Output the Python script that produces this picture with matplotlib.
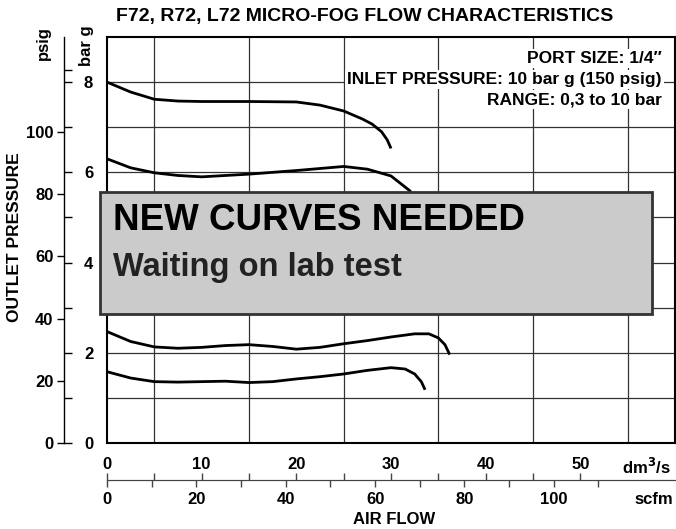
import numpy as np
import matplotlib
matplotlib.use("Agg")
import matplotlib.pyplot as plt

plt.rcParams['font.family'] = ['Liberation Sans', 'DejaVu Sans']
plt.rcParams['font.weight'] = 'bold'

# curvas (caudal dm3/s, presion bar g)
flow_8 = [0, 2.5, 5, 7.5, 10, 15, 20, 22.5, 25, 27, 28, 29, 29.6, 30]
pres_8 = [8.0, 7.78, 7.62, 7.58, 7.57, 7.57, 7.56, 7.49, 7.36, 7.18, 7.07, 6.9, 6.72, 6.53]

flow_6 = [0, 2.5, 5, 7.5, 10, 15, 20, 25, 27.5, 30, 32, 33.5]
pres_6 = [6.3, 6.1, 5.99, 5.93, 5.9, 5.96, 6.04, 6.13, 6.07, 5.92, 5.59, 5.1]

flow_2 = [0, 2.5, 5, 7.5, 10, 12.5, 15, 17.5, 20, 22.5, 25, 27.5, 30, 32.5, 34, 35, 35.7, 36.2]
pres_2 = [2.47, 2.25, 2.13, 2.10, 2.12, 2.16, 2.18, 2.14, 2.08, 2.12, 2.2, 2.27, 2.35, 2.42, 2.42, 2.33, 2.18, 1.96]

flow_1 = [0, 2.5, 5, 7.5, 10, 12.5, 15, 17.5, 20, 22.5, 25, 27.5, 30, 31.5, 32.5, 33.2, 33.6]
pres_1 = [1.58, 1.44, 1.36, 1.35, 1.36, 1.37, 1.34, 1.36, 1.42, 1.47, 1.53, 1.61, 1.67, 1.64, 1.53, 1.36, 1.18]

dm_ticks = [0, 10, 20, 30, 40, 50]
scfm_ticks = [0, 20, 40, 60, 80, 100]
psig_ticks = [0, 20, 40, 60, 80, 100]
bar_ticks = [0, 1, 2, 3, 4, 5, 6, 7, 8]

notes = ['PORT SIZE: 1/4\u2033', 'INLET PRESSURE: 10 bar g (150 psig)', 'RANGE: 0,3 to 10 bar']

W, H = 676, 529
BAR2PSI = 14.5038
DM_PER_SCFM = 0.471947
FS = 12


def rect(l, t, r, b):
    return [l / W, 1 - b / H, (r - l) / W, (b - t) / H]


fig = plt.figure(figsize=(W / 100, H / 100), dpi=100)

# grafico principal
ax = fig.add_axes(rect(107, 37, 675, 443))
ax.set_xlim(0, 60)
ax.set_ylim(0, 9)
ax.set_xticks(np.arange(0, 60, 5), minor=True)
ax.set_yticks(np.arange(1, 9, 1), minor=True)
ax.grid(True, which='minor', color='#333333', lw=0.9)
ax.set_xticks(dm_ticks + [57])
ax.set_xticklabels([str(v) for v in dm_ticks] + ['dm$^\\mathbf{3}$/s'], fontsize=FS, fontweight='bold')
ax.tick_params(axis='x', which='both', length=0, pad=10)
ax.set_yticks([])
ax.tick_params(axis='y', which='both', length=0)
for s in ax.spines.values():
    s.set_linewidth(1.5)

for fx, py in [(flow_8, pres_8), (flow_6, pres_6), (flow_2, pres_2), (flow_1, pres_1)]:
    ax.plot(fx, py, color='black', lw=2.0, zorder=3, solid_capstyle='butt')

ys = [8.52, 8.06, 7.61]
for txt, yv in zip(notes, ys):
    ax.text(58.6, yv, txt, ha='right', va='center', fontsize=12.5, fontweight='bold', zorder=4,
            bbox=dict(facecolor='white', edgecolor='none', pad=1.5))

# caja gris
box = plt.Rectangle((-0.74, 2.87), 58.3, 2.69, facecolor='#cbcbcb', edgecolor='#333333',
                    lw=2, zorder=5, clip_on=False)
ax.add_patch(box)
ax.text(0.6, 4.93, 'NEW CURVES NEEDED', fontsize=26.5, fontweight='bold', va='center', zorder=6)
ax.text(0.6, 3.88, 'Waiting on lab test', fontsize=23.5, fontweight='bold', va='center', zorder=6,
        family=['Liberation Sans Narrow', 'Liberation Sans'], color='#222222')

# eje psig
axp = fig.add_axes(rect(64, 37, 65, 443))
axp.set_ylim(0, 9 * BAR2PSI)
axp.set_xticks([])
for k in ['top', 'right', 'bottom']:
    axp.spines[k].set_visible(False)
axp.spines['left'].set_linewidth(1.0)
axp.set_yticks(psig_ticks)
axp.set_yticklabels([str(v) for v in psig_ticks], fontsize=FS, fontweight='bold')
axp.tick_params(axis='y', direction='out', length=5, width=1, pad=2.5)
axp.set_yticks([120], minor=True)
axp.tick_params(axis='y', which='minor', direction='in', length=6, width=1)
axp.patch.set_visible(False)

# eje bar g
axb = fig.add_axes(rect(64, 37, 65, 443))
axb.set_ylim(0, 9)
axb.set_xticks([])
for s in axb.spines.values():
    s.set_visible(False)
axb.set_yticks(bar_ticks)
axb.set_yticklabels([str(v) if v % 2 == 0 else '' for v in bar_ticks], fontsize=FS, fontweight='bold')
axb.tick_params(axis='y', direction='in', length=6, width=1, pad=-21)
axb.patch.set_visible(False)

# eje scfm
axs = fig.add_axes(rect(107, 470, 675, 480))
axs.set_xlim(0, 60 / DM_PER_SCFM)
axs.set_yticks([])
for k in ['top', 'right', 'left']:
    axs.spines[k].set_visible(False)
axs.spines['bottom'].set_color('#444444')
axs.set_xticks(scfm_ticks + [122.3])
axs.set_xticklabels([str(v) for v in scfm_ticks] + ['scfm'], fontsize=FS, fontweight='bold')
axs.set_xticks(np.arange(10, 120, 20), minor=True)
axs.tick_params(axis='x', which='both', direction='out', length=5, width=1, pad=4, color='#444444')
axs.xaxis.get_major_ticks()[-1].tick1line.set_visible(False)
axs.patch.set_visible(False)
sec = axs.secondary_xaxis(0, functions=(lambda s: s * DM_PER_SCFM, lambda d: d / DM_PER_SCFM))
sec.set_xticks(np.arange(0, 55, 5))
sec.tick_params(direction='in', length=5, width=1, labelbottom=False, color='#444444')
sec.spines['bottom'].set_color('#444444')

fig.text(365 / W, 1 - 17 / H, 'F72, R72, L72 MICRO-FOG FLOW CHARACTERISTICS',
         ha='center', va='center', fontsize=14, fontweight='bold')
fig.text(394 / W, 1 - 519 / H, 'AIR FLOW', ha='center', va='center', fontsize=FS, fontweight='bold')
fig.text(15 / W, 1 - 237 / H, 'OUTLET PRESSURE', ha='center', va='center', rotation=90,
         fontsize=12.5, fontweight='bold')
fig.text(43 / W, 1 - 43 / H, 'psig', ha='center', va='center', rotation=90, fontsize=FS, fontweight='bold')
fig.text(87 / W, 1 - 46 / H, 'bar g', ha='center', va='center', rotation=90, fontsize=FS, fontweight='bold')

fig.savefig('out.png', dpi=100)
